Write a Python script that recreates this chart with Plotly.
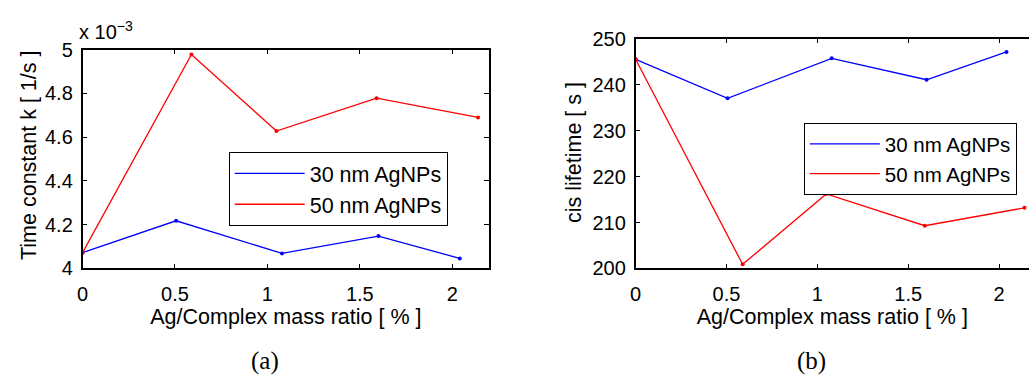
import plotly.graph_objects as go

# ---- data ----
ratio_30 = [0.0, 0.506, 1.079, 1.601, 2.041]
ratio_50 = [0.0, 0.589, 1.049, 1.591, 2.140]

k_30 = [0.004072, 0.004218, 0.004069, 0.004148, 0.004046]
k_50 = [0.004072, 0.004978, 0.004628, 0.004778, 0.004690]

life_30 = [245.5, 237.0, 245.7, 241.05, 247.1]
life_50 = [245.5, 200.9, 216.2, 209.3, 213.2]

x_ticks = [0, 0.5, 1, 1.5, 2]
x_ticktext = ["0", "0.5", "1", "1.5", "2"]
k_ticks = [0.0040, 0.0042, 0.0044, 0.0046, 0.0048, 0.0050]
k_ticktext = ["4", "4.2", "4.4", "4.6", "4.8", "5"]
life_ticks = [200, 210, 220, 230, 240, 250]

names = ["30 nm AgNPs", "50 nm AgNPs"]
colors = ["#0000ff", "#ff0000"]

W, H = 1029, 380
SANS = "Liberation Sans, Arial, sans-serif"
SERIF = "Liberation Serif, DejaVu Serif, serif"
TICK_SIZE = 20
TITLE_SIZE = 21.5

fig = go.Figure()

def add(x, y, name, color, xa, ya, legend):
    fig.add_trace(go.Scatter(
        x=x, y=y, name=name, mode="lines",
        line=dict(color=color, width=1.3),
        xaxis=xa, yaxis=ya, legend=legend, hoverinfo="skip"))
    fig.add_trace(go.Scatter(
        x=x, y=y, name=name, mode="markers", showlegend=False,
        marker=dict(color=color, size=4),
        xaxis=xa, yaxis=ya, hoverinfo="skip"))

add(ratio_30, k_30, names[0], colors[0], "x", "y", "legend")
add(ratio_50, k_50, names[1], colors[1], "x", "y", "legend")
add(ratio_30, life_30, names[0], colors[0], "x2", "y2", "legend2")
add(ratio_50, life_50, names[1], colors[1], "x2", "y2", "legend2")

def px_x(p):
    return p / W

def px_y(p):
    return (H - p) / H

axis_common = dict(showgrid=False, zeroline=False, showline=True,
                   linecolor="black", linewidth=1.5,
                   ticks="inside", ticklen=5, tickcolor="black", tickwidth=1,
                   tickfont=dict(family=SANS, size=TICK_SIZE, color="black"))

left_r = 486
right_l = 633.3
right_scale = 182.8  # px per unit on right panel
right_max = (W - right_l) / right_scale

legend_common = dict(xanchor="left", yanchor="top",
                     bgcolor="white", bordercolor="black", borderwidth=1,
                     itemwidth=70, tracegroupgap=0)

fig.update_layout(
    width=W, height=H,
    margin=dict(l=0, r=0, t=0, b=0),
    paper_bgcolor="white", plot_bgcolor="white",
    font=dict(family=SANS, color="black"),
    xaxis=dict(domain=[px_x(77), px_x(left_r)], range=[0, 2.2],
               tickvals=x_ticks, ticktext=x_ticktext, mirror="ticks",
               anchor="y", ticklabelstandoff=7,
               title=dict(text="Ag/Complex mass ratio [ % ]",
                          font=dict(family=SANS, size=TITLE_SIZE), standoff=2),
               **axis_common),
    yaxis=dict(domain=[px_y(273.3), px_y(41)], range=[0.004, 0.005],
               tickvals=k_ticks, ticktext=k_ticktext, mirror="ticks",
               anchor="x", ticklabelstandoff=4,
               **axis_common),
    xaxis2=dict(domain=[px_x(right_l), 1.0], range=[0, right_max],
                tickvals=x_ticks, ticktext=x_ticktext, mirror="ticks",
                anchor="y2", ticklabelstandoff=7,
                title=dict(text="Ag/Complex mass ratio [ % ]",
                           font=dict(family=SANS, size=TITLE_SIZE), standoff=2),
                **axis_common),
    yaxis2=dict(domain=[px_y(273.3), px_y(29.3)], range=[200, 250],
                tickvals=life_ticks, mirror=False, anchor="x2",
                ticklabelstandoff=4,
                **axis_common),
    legend=dict(x=px_x(224), y=px_y(149.5),
                font=dict(family=SANS, size=TITLE_SIZE, color="black"),
                **legend_common),
    legend2=dict(x=px_x(802.5), y=px_y(119),
                 font=dict(family=SANS, size=20.5, color="black"),
                 **legend_common),
    annotations=[
        dict(text="Time constant k [ 1/s ]", x=px_x(23), y=px_y(153),
             xref="paper", yref="paper", xanchor="center", yanchor="middle",
             textangle=-90, showarrow=False,
             font=dict(family=SANS, size=TITLE_SIZE)),
        dict(text="cis lifetime [ s ]", x=px_x(572), y=px_y(150),
             xref="paper", yref="paper", xanchor="center", yanchor="middle",
             textangle=-90, showarrow=False,
             font=dict(family=SANS, size=TITLE_SIZE)),
        dict(text="x 10<sup>−3</sup>", x=px_x(71), y=px_y(36),
             xref="paper", yref="paper", xanchor="left", yanchor="bottom",
             showarrow=False, font=dict(family=SANS, size=TICK_SIZE)),
        dict(text="(a)", x=px_x(261), y=px_y(372), xref="paper", yref="paper",
             xanchor="center", yanchor="middle", showarrow=False,
             font=dict(family=SERIF, size=25)),
        dict(text="(b)", x=px_x(810), y=px_y(372), xref="paper", yref="paper",
             xanchor="center", yanchor="middle", showarrow=False,
             font=dict(family=SERIF, size=25)),
    ],
)

fig.write_html("out.html")
